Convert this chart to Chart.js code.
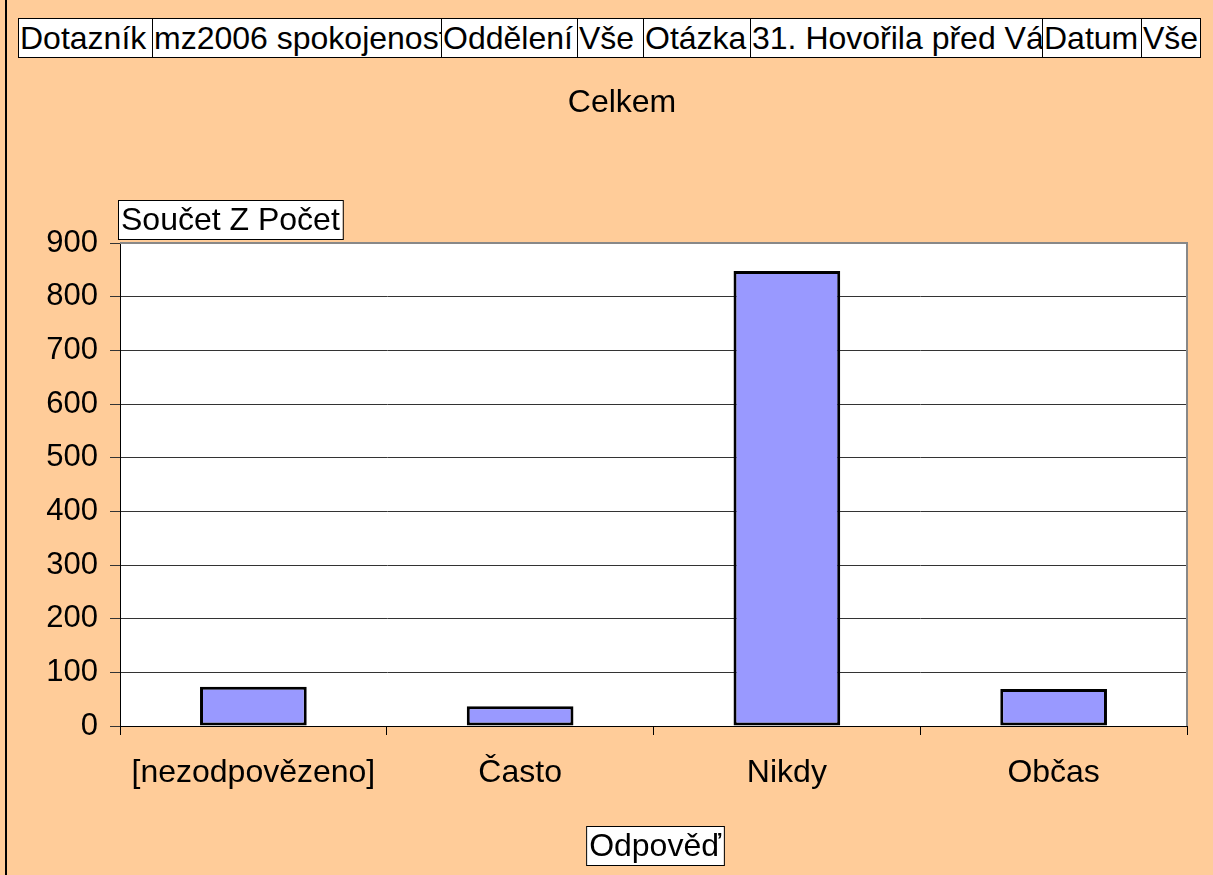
<!DOCTYPE html>
<html>
<head>
<meta charset="utf-8">
<script src="https://cdn.jsdelivr.net/npm/chart.js@4/dist/chart.umd.min.js"></script>
<style>
  body { margin: 0; background: #ffcc99; }
  #wrap { position: relative; width: 1213px; height: 875px; }
  #chart { position: absolute; left: 0; top: 0; }
  #header { position: absolute; left: 18px; top: 18px; height: 40px; display: flex; }
  #header div {
    box-sizing: border-box; height: 40px; background: #fff; border: 1px solid #000;
    margin-right: -1px; font: 32px "Liberation Sans", Arial, sans-serif; line-height: 38px;
    padding-left: 1px; white-space: nowrap; overflow: hidden; color: #000;
  }
</style>
</head>
<body>
<div id="wrap">
  <canvas id="chart" width="1213" height="875"></canvas>
  <div id="header"></div>
</div>
<script>
// page fields shown above the chart
var fieldNames = ['Dotazník', 'mz2006 spokojenost', 'Oddělení', 'Vše', 'Otázka', '31. Hovořila před Vámi', 'Datum', 'Vše'];
var fieldWidths = [135, 290, 137, 67, 108, 293, 100, 60];

var chartTitle = 'Celkem';
var valueTitle = 'Součet Z Počet';
var categoryTitle = 'Odpověď';

var categories = ['[nezodpovězeno]', 'Často', 'Nikdy', 'Občas'];
var counts = [73, 37, 848, 69];

var FONT = '"Liberation Sans", Arial, sans-serif';

var header = document.getElementById('header');
fieldNames.forEach(function (name, i) {
  var d = document.createElement('div');
  d.style.width = fieldWidths[i] + 'px';
  d.textContent = name;
  header.appendChild(d);
});

// draws the title, boxed axis labels and the frame around the plot
var decorPlugin = {
  id: 'decor',
  beforeDraw: function (chart) {
    var ctx = chart.ctx;
    ctx.save();
    ctx.fillStyle = '#ffcc99';
    ctx.fillRect(0, 0, chart.width, chart.height);
    ctx.fillStyle = '#000';
    ctx.fillRect(5, 0, 2, chart.height);
    var a = chart.chartArea;
    ctx.fillStyle = '#fff';
    ctx.fillRect(a.left, a.top, a.right - a.left, a.bottom - a.top);
    ctx.restore();
  },
  afterDraw: function (chart) {
    var ctx = chart.ctx;
    var a = chart.chartArea;
    ctx.save();
    ctx.strokeStyle = '#888';
    ctx.lineWidth = 2;
    ctx.beginPath();
    ctx.moveTo(a.left, a.top);
    ctx.lineTo(a.right, a.top);
    ctx.lineTo(a.right, a.bottom);
    ctx.stroke();

    ctx.font = '32px ' + FONT;
    ctx.fillStyle = '#000';
    ctx.textBaseline = 'middle';
    ctx.textAlign = 'center';
    ctx.fillText(chartTitle, 622, 103);

    function boxed(text, x, y) {
      var w = ctx.measureText(text).width + 6;
      ctx.fillStyle = '#fff';
      ctx.fillRect(x, y, w, 39);
      ctx.strokeStyle = '#000';
      ctx.lineWidth = 1;
      ctx.strokeRect(x + 0.5, y + 0.5, w, 39);
      ctx.fillStyle = '#000';
      ctx.textAlign = 'left';
      ctx.fillText(text, x + 3, y + 21);
    }
    boxed(valueTitle, 118, 200);
    var cw = ctx.measureText(categoryTitle).width + 6;
    boxed(categoryTitle, 655 - cw / 2, 826);
    ctx.restore();
  }
};

new Chart(document.getElementById('chart'), {
  type: 'bar',
  data: {
    labels: categories,
    datasets: [{
      label: valueTitle,
      data: counts,
      backgroundColor: '#9999ff',
      borderColor: '#000',
      borderWidth: 3,
      borderSkipped: false,
      categoryPercentage: 1,
      barPercentage: 0.4
    }]
  },
  options: {
    responsive: false,
    animation: false,
    layout: { padding: { left: 0, top: 243, right: 26, bottom: 0 } },
    plugins: {
      legend: { display: false },
      title: { display: false },
      tooltip: { enabled: false }
    },
    scales: {
      x: {
        afterFit: function (s) { s.height = 149; },
        grid: { drawOnChartArea: false, drawTicks: true, tickLength: 9, color: '#000', offset: true },
        border: { color: '#000', width: 1 },
        ticks: { color: '#000', font: { size: 32, family: FONT }, padding: 19 }
      },
      y: {
        min: 0,
        max: 900,
        afterFit: function (s) { s.width = 120; },
        grid: { color: '#333', tickLength: 10, lineWidth: 1 },
        border: { color: '#000', width: 1 },
        ticks: { stepSize: 100, color: '#000', font: { size: 31, family: FONT }, padding: 12 }
      }
    }
  },
  plugins: [decorPlugin]
});
</script>
</body>
</html>
